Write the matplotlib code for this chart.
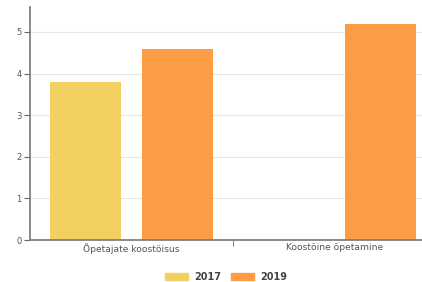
import numpy as np
import matplotlib.pyplot as plt
from matplotlib.patches import Patch

categories = ['Õpetajate koostöisus', 'Koostöine õpetamine']
years = ['2017', '2019']
values_2017 = [3.8, np.nan]
values_2019 = [4.6, 5.2]
colors = ['#f2d162', '#fd9c44']

fig = plt.figure(figsize=(4.22, 2.82), dpi=100)
ax = fig.add_axes([30 / 422, 42 / 282, 406 / 422, 233 / 282])

x = np.arange(len(categories))
w = 0.35
ax.bar(x - 0.052 - w / 2, values_2017, w, color=colors[0])
ax.bar(x + 0.052 + w / 2, values_2019, w, color=colors[1])

ax.set_xlim(-0.5, 1.5)
ax.set_ylim(0, 5.6)
ax.set_yticks([0, 1, 2, 3, 4, 5])
ax.set_xticks(x)
ax.set_xticklabels(categories)
ax.set_xticks([0.5], minor=True)
ax.tick_params(axis='x', which='major', length=0, labelsize=6.6, colors='#555555', pad=2)
ax.tick_params(axis='x', which='minor', length=4, color='#666666', direction='out')
ax.tick_params(axis='y', length=4, labelsize=6, colors='#555555', color='#666666', pad=2)

ax.grid(axis='y', color='#e6e6e6', linewidth=0.8)
ax.set_axisbelow(True)
for s in ['top', 'right']:
    ax.spines[s].set_visible(False)
ax.spines['left'].set_color('#777777')
ax.spines['bottom'].set_color('#777777')
ax.spines['left'].set_linewidth(1.2)
ax.spines['bottom'].set_linewidth(1.2)

handles = [Patch(color=c, label=y) for c, y in zip(colors, years)]
leg = fig.legend(handles=handles, loc='center', bbox_to_anchor=(226 / 422, 5 / 282),
                 ncol=2, frameon=False, handlelength=2.4, handleheight=0.7,
                 columnspacing=1.0, handletextpad=0.6,
                 prop={'weight': 'bold', 'size': 7})
for t in leg.get_texts():
    t.set_color('#444444')

fig.savefig('out.png', dpi=100)
